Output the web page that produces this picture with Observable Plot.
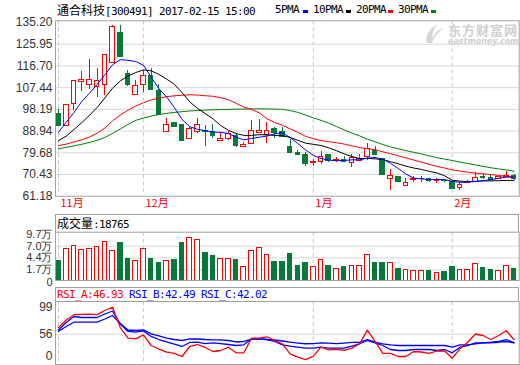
<!DOCTYPE html>
<html><head><meta charset="utf-8">
<script src="https://cdn.jsdelivr.net/npm/d3@7"></script>
<script src="https://cdn.jsdelivr.net/npm/@observablehq/plot@0.6"></script>
<style>
html,body{margin:0;padding:0;background:#fff;}
#wrap{position:relative;width:520px;height:365px;overflow:hidden;background:#fff;}
.t{position:absolute;white-space:pre;line-height:12px;color:#000;}
.mono{font-family:"DejaVu Sans Mono",monospace;font-size:11px;letter-spacing:-0.62px;}
.cjk{font-family:"Noto Sans CJK SC",sans-serif;font-size:12px;}
.box{position:absolute;border:1px solid #a0a0a0;border-bottom:none;box-sizing:border-box;}
.dash{position:absolute;width:5px;height:3px;}
</style></head>
<body><div id="wrap"></div>
<script>
// ---------- text ----------
const stockName = "通合科技";
const stockInfo = "[300491] 2017-02-15 15:00";
const maNames = ["5PMA", "10PMA", "20PMA", "30PMA"];
const volName = "成交量";
const rsiNames = ["RSI_A", "RSI_B", "RSI_C"];
const rsiLast = ["46.93", "42.49", "42.02"];
const months = ["11月", "12月", "1月", "2月"];
const monthStart = [0, 11, 33, 51];
const priceTicks = [135.20, 125.95, 116.70, 107.44, 98.19, 88.94, 79.68, 70.43, 61.18];
const volTicks = [97000, 70000, 44000, 17000];
const volTickLabels = ["9.7万", "7.0万", "4.4万", "1.7万"];
const volFloor = -6500, volTop = 101200;
const rsiTicks = [99, 56];

// ---------- data ----------
const opens = [96.07,91.09,100.62,109.87,108.7,107.9,108.7,118.1,130.9,113.4,
 104.5,108.7,112.6,106.2,88.7,92.2,91.37,85.7,88.7,89.1,
 88.5,84.8,85.7,86.8,82.3,83.55,88.2,87.4,90.0,88.5,
 82.3,79.7,78.6,75.15,75.7,78.6,76.3,76.6,75.4,76.3,
 77.7,80.25,77.1,68.3,69.2,65.5,68.05,68.3,68.3,67.75,
 67.75,67.2,64.6,66.9,67.2,69.2,68.9,68.3,69.2,69.8];
const closes = [91.09,100.2,110.16,110.6,110.9,110.4,121.5,133.5,120.5,108.45,
 108.3,112.6,106.5,95.8,91.66,90.8,84.7,90.0,91.66,88.5,
 86.8,85.7,87.7,82.55,82.8,89.1,88.8,89.1,88.0,86.25,
 79.7,78.85,74.9,75.7,78.0,76.3,76.6,75.7,77.4,77.1,
 81.1,78.6,70.3,70.0,67.2,66.9,68.3,68.6,67.5,68.05,
 67.5,64.3,66.05,67.2,68.9,68.9,68.05,69.2,69.8,68.6];
const highs = [98.2,100.3,110.2,114.5,119.5,115.5,121.6,134.1,134.1,114.85,
 110.6,114.85,115.5,108.7,94.2,92.8,91.6,90.4,94.2,91.37,
 91.66,88.5,88.8,87.7,84.0,93.65,93.9,92.5,90.3,90.5,
 85.4,80.6,79.7,76.9,80.3,79.15,77.7,78.0,78.85,78.85,
 83.7,82.55,77.4,72.6,69.45,68.6,69.45,69.45,68.6,68.6,
 68.05,67.75,66.9,67.75,71.2,70.3,70.3,69.45,71.8,70.3];
const lows = [90.7,91.0,97.5,105.9,106.5,103.3,103.9,118.1,120.5,108.0,
 104.2,105.2,106.5,95.8,88.7,90.8,84.7,85.4,87.8,82.55,
 85.97,84.8,84.8,82.1,82.3,83.55,88.2,83.8,85.7,86.0,
 79.7,78.6,74.0,74.0,74.9,75.7,75.4,75.4,73.4,76.3,
 76.3,78.6,70.3,63.5,66.9,65.5,66.9,67.2,67.2,66.6,
 67.2,64.05,63.8,66.6,67.2,68.3,67.5,68.3,69.2,68.05];
const volumes = [38030,64030,70740,62480,64030,68520,79610,59600,78120,42460,
 37310,64030,42460,32870,37310,40190,78120,88540,84110,55830,
 49170,41740,41740,40190,24000,59600,66250,50720,35750,35750,
 53610,26880,32870,24000,39520,26880,19560,24000,26220,26220,
 50720,33530,33530,32870,20230,17340,15790,15790,13570,10580,
 11350,24660,17340,17340,30650,22440,18010,15790,26220,18765];
const ma5 = [88.5,92.7,96.8,101.5,105.0,108.8,112.9,117.2,119.4,119.1,
 118.6,117.0,112.0,107.0,103.5,99.0,93.9,90.8,89.7,89.1,
 88.5,88.4,87.9,86.3,85.2,85.8,86.3,86.8,87.8,88.2,
 86.2,83.6,80.9,78.6,77.2,76.6,76.3,76.4,76.7,76.7,
 77.4,77.7,76.9,75.2,73.0,70.6,68.9,68.6,68.2,68.3,
 68.3,67.5,67.1,67.2,67.4,67.8,68.2,68.8,69.3,69.3];
const ma10 = [84.8,86.8,89.6,92.5,95.6,99.0,103.0,107.2,110.3,112.4,
 113.9,115.0,114.6,113.1,111.1,108.9,105.3,101.4,98.6,96.4,
 94.2,91.3,89.3,87.9,87.1,87.1,87.4,87.3,87.1,87.0,
 86.2,85.0,83.8,83.3,82.8,81.8,80.6,79.2,78.1,77.2,
 77.3,77.1,76.8,75.9,75.0,74.0,73.2,72.6,71.8,71.1,
 69.9,68.0,67.6,67.4,67.5,67.7,67.7,67.8,67.9,67.9];
const ma20 = [82.7,83.4,84.3,85.2,86.4,88.0,90.2,93.3,95.8,97.8,
 99.6,101.0,102.2,103.0,103.6,104.0,104.2,104.4,104.3,104.0,
 103.8,103.2,102.3,100.8,99.1,98.2,96.7,94.2,92.6,91.4,
 89.9,88.4,86.7,85.7,84.9,84.4,84.0,83.4,82.6,81.9,
 81.4,81.0,80.1,79.3,78.4,77.5,76.6,75.7,74.8,73.9,
 73.2,72.4,71.9,71.4,71.0,70.7,70.4,70.0,69.7,69.4];
const ma30 = [81.4,82.0,82.6,83.3,84.1,85.0,86.2,87.9,89.8,91.8,
 93.5,94.5,95.3,96.0,96.5,96.9,97.2,97.5,97.7,97.9,
 98.0,98.1,98.2,98.3,98.3,98.4,98.4,98.4,98.3,98.2,
 97.7,96.9,95.8,94.6,93.5,92.3,90.9,89.4,88.1,86.9,
 85.5,84.4,83.2,82.2,81.4,80.6,79.9,79.2,78.4,77.6,
 77.0,76.4,75.7,75.1,74.5,73.9,73.3,72.8,72.4,71.8];
const rsiA = [66.8,79.0,87.5,88.0,88.4,87.6,94.3,99.6,66.8,49.8,
 48.5,55.0,37.7,32.0,26.9,24.8,19.9,36.1,39.3,34.5,
 28.0,29.6,35.0,25.9,25.9,49.5,49.5,51.8,45.8,40.5,
 24.3,18.8,15.0,20.4,35.0,30.5,31.5,30.0,33.5,40.5,
 62.5,44.2,25.2,24.8,19.9,19.9,28.0,27.2,24.8,28.8,
 29.1,17.2,32.4,43.0,56.3,53.9,47.4,53.9,61.5,46.93];
const rsiB = [63.1,74.9,84.6,83.0,83.0,83.0,88.7,93.5,72.5,60.4,
 59.5,61.2,52.3,47.4,43.4,40.1,36.1,42.6,43.0,40.9,
 42.1,40.9,39.3,37.7,38.8,48.5,48.2,47.4,44.2,38.8,
 36.6,35.0,33.3,33.3,35.0,33.3,33.3,33.3,36.6,40.5,
 45.8,42.1,37.7,31.2,29.6,29.6,31.2,31.2,31.2,29.6,
 31.2,25.9,35.0,37.7,42.1,42.1,43.0,44.2,47.4,42.49];
const rsiC = [60.8,68.4,75.4,75.4,75.4,75.4,80.6,86.2,73.3,62.8,
 62.0,63.1,56.6,53.1,49.8,47.4,45.8,48.5,48.2,47.4,
 46.9,46.9,45.8,43.4,44.2,48.2,48.2,47.4,46.6,45.0,
 43.0,41.7,40.5,40.9,42.1,41.4,40.9,41.7,42.6,43.0,
 47.4,43.0,40.5,38.8,37.7,37.7,37.7,37.7,37.7,37.7,
 37.7,35.0,38.8,38.8,40.5,42.1,42.1,43.0,44.2,42.02];

// ---------- styles ----------
const RED = "#ff0000", GREEN = "#07793b", GRID = "#d8d8d8", FRAME = "#a0a0a0", DASH = "#c8c8c8";
const maColors = ["#0000ff", "#000000", "#ff0000", "#008000"];

const rows = closes.map((c, i) => ({
  i, o: opens[i], h: highs[i], l: lows[i], c, v: volumes[i], up: c >= opens[i],
  m5: ma5[i], m10: ma10[i], m20: ma20[i], m30: ma30[i], ra: rsiA[i], rb: rsiB[i], rc: rsiC[i]
}));
const ups = rows.filter(d => d.up), downs = rows.filter(d => !d.up);
const half = 0.3;
const x1 = d => d.i - half, x2 = d => d.i + half;

const common = {
  width: 520, marginLeft: 55, marginRight: 1.3,
  x: {domain: [-0.389, 59.67], axis: null},
  style: {fontFamily: "'Liberation Sans', Arial, sans-serif", fontSize: "12px", color: "#333", background: "transparent", overflow: "visible"}
};

// ---------- price panel ----------
const price = Plot.plot({
  ...common, height: 214, marginTop: 20.3, marginBottom: 18.3,
  y: {domain: [61.18, 135.94], axis: null},
  marks: [
    Plot.ruleY(priceTicks.slice(1, -1), {stroke: GRID}),
    Plot.ruleX(monthStart, {stroke: DASH, strokeDasharray: "4,3"}),
    Plot.axisY({ticks: priceTicks, tickSize: 0, tickPadding: 3, tickFormat: d => d.toFixed(2), label: null}),
    Plot.text(months, {x: (d, k) => monthStart[k], text: d => d, frameAnchor: "bottom", dy: 11, dx: 2, textAnchor: "start", fill: RED, fontSize: 11, fontFamily: "Noto Sans CJK SC"}),
    Plot.ruleX(ups, {x: "i", y1: "l", y2: "h", stroke: RED, shapeRendering: "crispEdges"}),
    Plot.ruleX(downs, {x: "i", y1: "l", y2: "h", stroke: GREEN, shapeRendering: "crispEdges"}),
    Plot.rect(ups, {x1, x2, y1: "o", y2: "c", fill: "#fff", stroke: RED, shapeRendering: "crispEdges"}),
    Plot.rect(downs, {x1, x2, y1: "o", y2: "c", fill: GREEN, stroke: GREEN, shapeRendering: "crispEdges"}),
    Plot.line(rows, {x: "i", y: "m30", stroke: maColors[3], strokeWidth: 1}),
    Plot.line(rows, {x: "i", y: "m20", stroke: maColors[2], strokeWidth: 1}),
    Plot.line(rows, {x: "i", y: "m10", stroke: maColors[1], strokeWidth: 1}),
    Plot.line(rows, {x: "i", y: "m5", stroke: maColors[0], strokeWidth: 1}),
    Plot.frame({stroke: FRAME})
  ]
});

// ---------- volume panel ----------
const vol = Plot.plot({
  ...common, height: 67, marginTop: 17.7, marginBottom: 1,
  y: {domain: [volFloor, volTop], axis: null},
  marks: [
    Plot.ruleY(volTicks.slice(1), {stroke: GRID}),
    Plot.ruleX(monthStart, {stroke: DASH, strokeDasharray: "4,3"}),
    Plot.axisY({ticks: volTicks, tickSize: 0, tickPadding: 3, fontSize: 11, tickFormat: d => volTickLabels[volTicks.indexOf(d)], label: null}),
    Plot.text(["0"], {frameAnchor: "bottom-left", dx: -3, dy: 1.5, fontSize: 11, textAnchor: "end", lineAnchor: "middle"}),
    Plot.rect(ups, {x1, x2, y1: volFloor, y2: "v", fill: "#fff", stroke: RED, shapeRendering: "crispEdges"}),
    Plot.rect(downs, {x1, x2, y1: volFloor, y2: "v", fill: GREEN, stroke: GREEN, shapeRendering: "crispEdges"}),
    Plot.frame({stroke: FRAME})
  ]
});

// ---------- RSI panel ----------
const rsi = Plot.plot({
  ...common, height: 79, marginTop: 15, marginBottom: 1,
  y: {domain: [6.96, 108.9], axis: null},
  marks: [
    Plot.ruleY([56], {stroke: GRID}),
    Plot.ruleX(monthStart, {stroke: DASH, strokeDasharray: "4,3"}),
    Plot.axisY({ticks: rsiTicks, tickSize: 0, tickPadding: 3, label: null}),
    Plot.text(["0"], {frameAnchor: "bottom-left", dx: -3, textAnchor: "end", lineAnchor: "middle", dy: -8}),
    Plot.line(rows, {x: "i", y: "rc", stroke: "#0000ff", strokeWidth: 1.3}),
    Plot.line(rows, {x: "i", y: "rb", stroke: "#0000ff", strokeWidth: 1.3}),
    Plot.line(rows, {x: "i", y: "ra", stroke: RED, strokeWidth: 1.3}),
    Plot.frame({stroke: FRAME})
  ]
});

// ---------- assemble ----------
const wrap = document.getElementById("wrap");
function place(svg, top) {
  svg.style.position = "absolute"; svg.style.left = "0px"; svg.style.top = top + "px";
  wrap.appendChild(svg);
}
function div(cls, css, html) {
  const d = document.createElement("div");
  d.className = cls; d.style.cssText = css; if (html != null) d.innerHTML = html;
  wrap.appendChild(d); return d;
}
// panel title boxes
div("box", "left:55px;top:214px;width:464px;height:18px;");
div("box", "left:55px;top:287px;width:464px;height:15px;");
place(price, 0);
place(vol, 214);
place(rsi, 286);

// header
div("t", "left:57px;top:3.5px;", `<span class="cjk">${stockName}</span><span class="mono">${stockInfo}</span>`);
const legendX = [275, 313, 356, 398], dashX = [303, 346, 388, 431];
maNames.forEach((n, k) => {
  div("t mono", `left:${legendX[k]}px;top:4px;`, n);
  div("dash", `left:${dashX[k]}px;top:10px;background:${maColors[k]};`);
});
// watermark
div("t", "left:423px;top:23px;line-height:0;",
  `<svg width="22" height="21" viewBox="0 0 22 21"><path d="M4 20 C2 13 6 5 15 1 C10 6 9 11 10 15 C12 9 16 6 21 5 C15 9 11 14 9 20 Z" fill="#d6d6d6"/></svg>`);
div("t", "left:448px;top:22.5px;font:bold 13px 'Noto Sans CJK SC';line-height:13px;color:#d0d0d0;letter-spacing:1px;", "东方财富网");
div("t", "left:448px;top:38px;font:bold italic 8px 'DejaVu Sans';line-height:7px;color:#d0d0d0;", "eastmoney.com");
// volume title
div("t", "left:57px;top:216.5px;", `<span class="cjk">${volName}</span><span class="mono">:${volumes[volumes.length - 1]}</span>`);
// RSI title
const rsiColors = [RED, "#0000ff", "#0000ff"];
div("t mono", "left:57px;top:288.5px;", rsiNames.map((n, k) => `<span style="color:${rsiColors[k]}">${n}:${rsiLast[k]}</span>`).join(" "));
</script></body></html>
